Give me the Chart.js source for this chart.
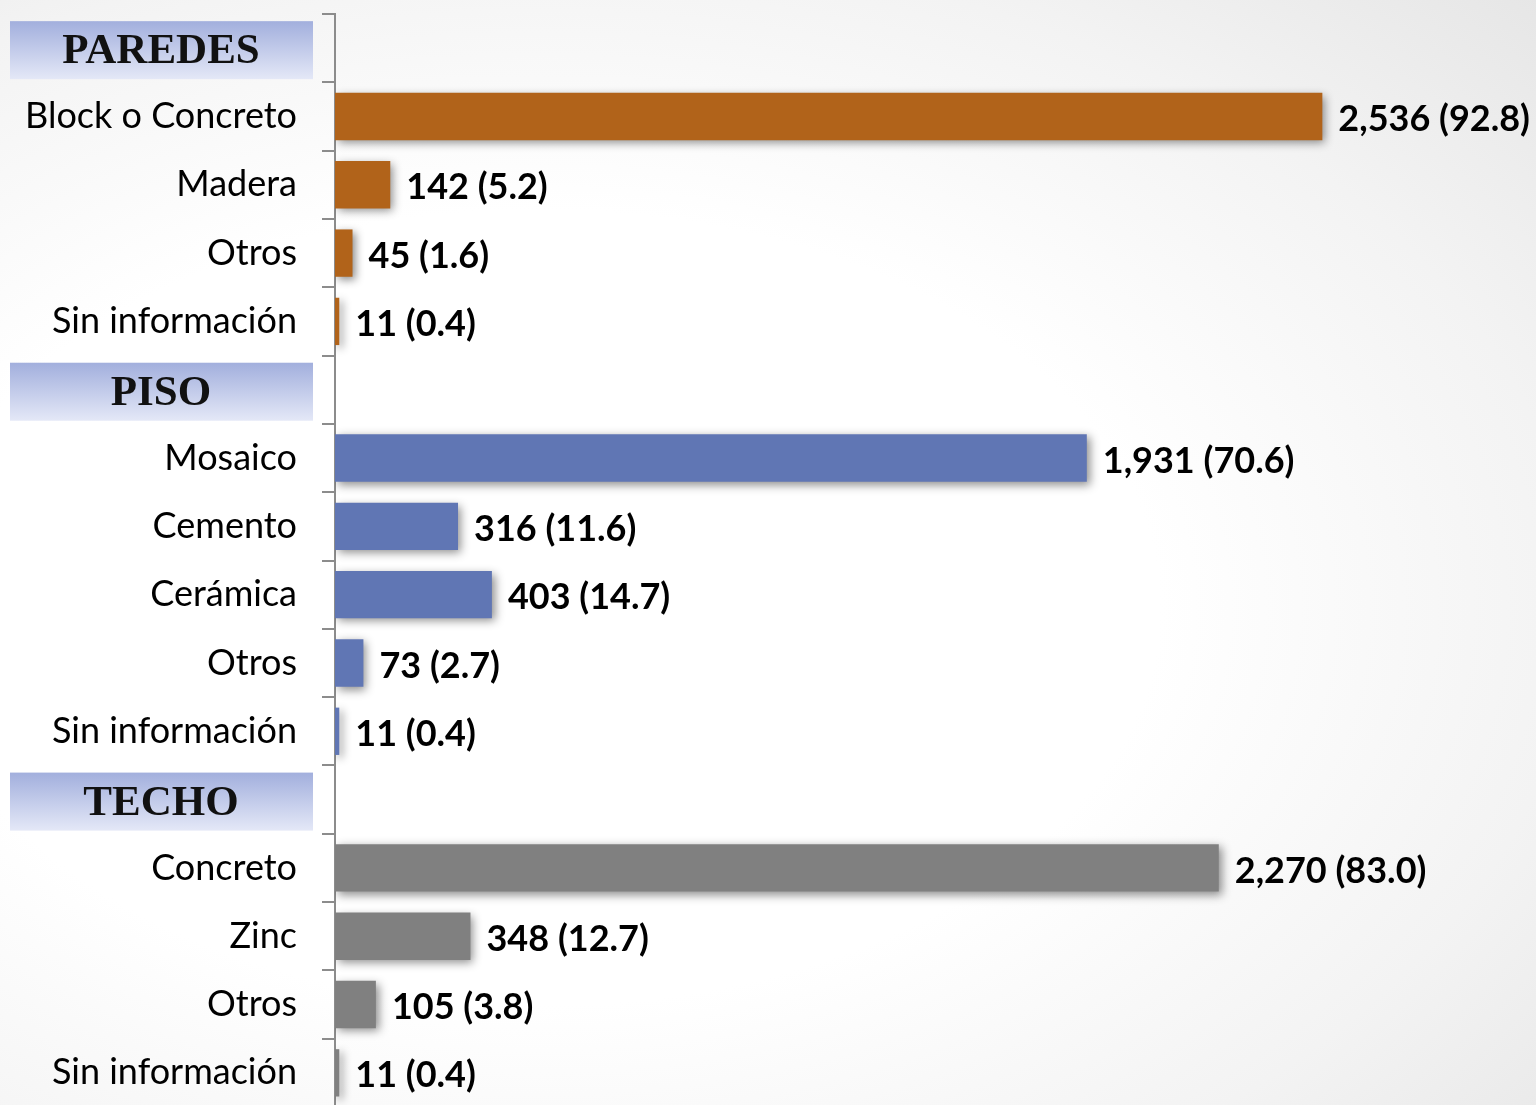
<!DOCTYPE html>
<html>
<head>
<meta charset="utf-8">
<script src="https://cdn.jsdelivr.net/npm/chart.js@4.4.1/dist/chart.umd.min.js"></script>
<style>
  html, body { margin: 0; padding: 0; overflow: hidden; }
  body {
    width: 1536px; height: 1105px;
    background: radial-gradient(ellipse 90% 80% at 35% 55%, #ffffff 45%, #f3f3f3 75%, #e6e6e6 100%);
  }
  #wrap { position: relative; width: 1536px; height: 1110px; }
</style>
</head>
<body>
<div id="wrap"><canvas id="grafica" width="1536" height="1110"></canvas></div>
<script>
// filas de la grafica (los encabezados van vacios)
var categorias = ['PAREDES', 'Block o Concreto', 'Madera', 'Otros', 'Sin información',
  'PISO', 'Mosaico', 'Cemento', 'Cerámica', 'Otros', 'Sin información',
  'TECHO', 'Concreto', 'Zinc', 'Otros', 'Sin información'];
var valores = [null, 2536, 142, 45, 11, null, 1931, 316, 403, 73, 11, null, 2270, 348, 105, 11];
var porcentajes = [null, 92.8, 5.2, 1.6, 0.4, null, 70.6, 11.6, 14.7, 2.7, 0.4, null, 83.0, 12.7, 3.8, 0.4];
var grupo = ['h', 'p', 'p', 'p', 'p', 'h', 's', 's', 's', 's', 's', 'h', 't', 't', 't', 't'];

var colores = { p: '#B1631A', s: '#6076B4', t: '#808080', h: 'rgba(0,0,0,0)' };

function esEncabezado(i) { return grupo[i] === 'h'; }

// sombra de las barras
var sombra = {
  id: 'sombra',
  beforeDatasetDraw: function(chart) {
    var ctx = chart.ctx;
    ctx.save();
    ctx.shadowColor = 'rgba(0,0,0,0.45)';
    ctx.shadowBlur = 9;
    ctx.shadowOffsetX = 3;
    ctx.shadowOffsetY = 3;
  },
  afterDatasetDraw: function(chart) { chart.ctx.restore(); }
};

// etiquetas de valor y encabezados
var etiquetas = {
  id: 'etiquetas',
  afterDraw: function(chart) {
    var ctx = chart.ctx;
    var meta = chart.getDatasetMeta(0);
    var yScale = chart.scales.y;
    ctx.save();
    ctx.textBaseline = 'middle';
    meta.data.forEach(function(bar, i) {
      if (esEncabezado(i)) return;
      ctx.font = 'bold 36px Lato, "Open Sans", sans-serif';
      ctx.fillStyle = '#000';
      ctx.textAlign = 'left';
      var texto = valores[i].toLocaleString('en-US') + ' (' + porcentajes[i].toFixed(1) + ')';
      ctx.fillText(texto, bar.x + 16, bar.y + 3);
    });
    // cajas de encabezado
    categorias.forEach(function(c, i) {
      if (!esEncabezado(i)) return;
      var y = yScale.getPixelForValue(i) + 2;
      var g = ctx.createLinearGradient(0, y - 29, 0, y + 29);
      g.addColorStop(0, '#A2AFDD');
      g.addColorStop(1, '#E4E8F7');
      ctx.fillStyle = g;
      ctx.fillRect(10, y - 29, 303, 58);
      ctx.fillStyle = '#111';
      ctx.textAlign = 'center';
      ctx.font = 'bold 43px "Liberation Serif", serif';
      ctx.fillText(c, 161, y + 2);
    });
    ctx.restore();
  }
};

var ctx = document.getElementById('grafica').getContext('2d');
new Chart(ctx, {
  type: 'bar',
  data: {
    labels: categorias,
    datasets: [{
      data: valores,
      backgroundColor: grupo.map(function(g) { return colores[g]; }),
      borderWidth: 0,
      barPercentage: 0.77,
      categoryPercentage: 0.9
    }]
  },
  options: {
    indexAxis: 'y',
    responsive: false,
    animation: false,
    devicePixelRatio: 1,
    layout: { padding: { top: 14, right: 33, bottom: 3, left: 0 } },
    plugins: { legend: { display: false }, tooltip: { enabled: false } },
    scales: {
      x: {
        display: false,
        min: 0,
        max: 3000
      },
      y: {
        afterFit: function(scale) {
          scale.width = 335;
          scale.paddingTop = 0;
          scale.paddingBottom = 0;
        },
        border: { display: true, color: '#8c8c8c', width: 2 },
        grid: {
          offset: true,
          drawOnChartArea: false,
          drawTicks: true,
          tickLength: 13,
          color: '#8c8c8c',
          lineWidth: 2
        },
        ticks: {
          padding: 25,
          color: '#000',
          font: { family: 'Lato, "Open Sans", sans-serif', size: 36 },
          callback: function(v, i) { return esEncabezado(i) ? '' : categorias[i]; }
        }
      }
    }
  },
  plugins: [sombra, etiquetas]
});
</script>
</body>
</html>
